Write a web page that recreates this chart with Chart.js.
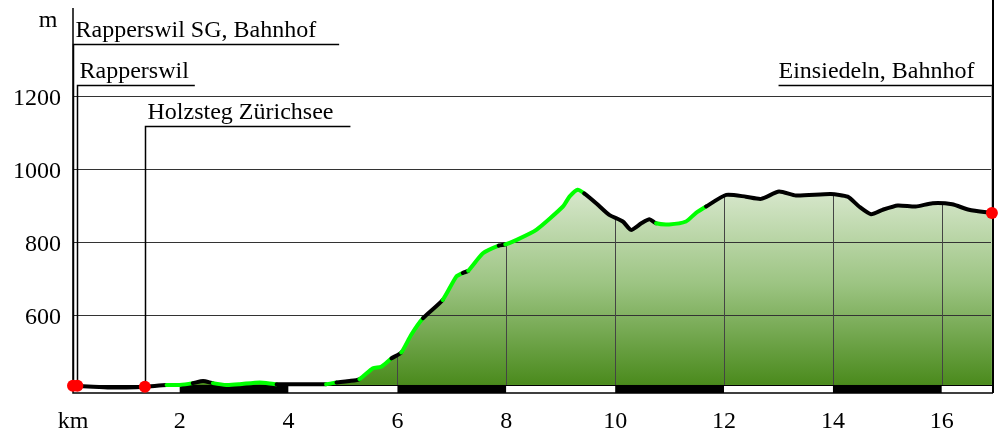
<!DOCTYPE html>
<html>
<head>
<meta charset="utf-8">
<script src="https://cdn.jsdelivr.net/npm/chart.js@4.4.1/dist/chart.umd.min.js"></script>
<style>
    html, body { margin: 0; padding: 0; background: #fff; }
</style>
</head>
<body>
<canvas id="chart" width="999" height="433"></canvas>
<script>
// route profile, km from start and altitude in m
const distKm = [0.04, 0.41, 0.72, 1.02, 1.36, 1.76, 2.00, 2.24, 2.43, 2.61, 2.86, 3.10, 3.47, 3.78, 4.08, 4.45,
    4.69, 4.88, 5.12, 5.30, 5.55, 5.70, 5.89, 6.07, 6.25, 6.47, 6.83, 7.08, 7.20, 7.30, 7.57, 7.86, 7.98, 8.18,
    8.55, 9.04, 9.16, 9.31, 9.43, 9.65, 9.89, 10.14, 10.29, 10.48, 10.63, 10.75, 10.99, 11.30, 11.48, 11.67,
    12.04, 12.40, 12.68, 13.01, 13.32, 13.96, 14.27, 14.48, 14.70, 14.91, 15.19, 15.52, 15.83, 16.19, 16.50, 16.92];
const elevation = [405, 402, 400, 400, 402, 407, 407, 412, 418, 412, 407, 409, 414, 409, 409, 409,
    409, 414, 418, 423, 453, 457, 480, 496, 544, 590, 640, 704, 714, 720, 768, 789, 792, 804,
    832, 896, 923, 942, 932, 905, 873, 855, 832, 850, 861, 850, 847, 855, 878, 896,
    928, 923, 917, 937, 926, 930, 923, 896, 875, 887, 899, 896, 905, 902, 887, 878];
// surface of the stretch starting at each point: g = green, b = black
const surface = ('bbbbb' + 'gg' + 'bb' + 'gggg' + 'bbb' + 'g' + 'bb' + 'ggg' + 'b' + 'gg' + 'b' + 'gg' + 'b' +
    'gg' + 'b' + 'gggggg' + 'bbbbbbb' + 'gggg' + 'bbbbbbbbbbbbbbbbb').split('');

const stationNames = ['Rapperswil SG, Bahnhof', 'Rapperswil', 'Holzsteg Zürichsee', 'Einsiedeln, Bahnhof'];
const stationKm = [0.04, 0.12, 1.36, 16.92];
const stationElev = [405, 405, 402, 878];

const xTicks = [0.04, 2, 4, 6, 8, 10, 12, 14, 16];
const xTickLabels = ['km', '2', '4', '6', '8', '10', '12', '14', '16'];
const yTicks = [600, 800, 1000, 1200];

// label layout (pixels)
const labelLevel = [44, 85, 126, 85];
const labelTail = [23, 6, 17, 18];
const labelRight = [false, false, false, true];

const FONT = "'Liberation Serif', 'Times New Roman', serif";
const BASE = 407;
const GREEN = '#00ff00';
const TENSION = 0.2;

const noPadding = s => {
    s.paddingTop = 0;
    s.paddingBottom = 0;
    s.paddingLeft = 0;
    s.paddingRight = 0;
};

const profilePlugin = {
    id: 'profile',
    beforeDatasetsDraw(chart) {
        const { ctx, chartArea: a, scales: { x, y } } = chart;
        const baseY = y.getPixelForValue(BASE);
        ctx.save();

        // horizontal grid lines
        ctx.strokeStyle = '#333';
        ctx.lineWidth = 1;
        yTicks.forEach(v => {
            const py = Math.round(y.getPixelForValue(v)) + 0.5;
            ctx.beginPath();
            ctx.moveTo(a.left, py);
            ctx.lineTo(a.right - 2, py);
            ctx.stroke();
        });

        // vertical km lines, only inside the filled area
        const area = chart.getDatasetMeta(2).dataset;
        ctx.save();
        ctx.beginPath();
        area.path(ctx);
        ctx.lineTo(x.getPixelForValue(distKm[distKm.length - 1]), baseY);
        ctx.lineTo(x.getPixelForValue(distKm[0]), baseY);
        ctx.closePath();
        ctx.clip();
        ctx.strokeStyle = '#444';
        xTicks.slice(1).forEach(v => {
            const px = Math.round(x.getPixelForValue(v)) + 0.5;
            ctx.beginPath();
            ctx.moveTo(px, baseY);
            ctx.lineTo(px, a.top);
            ctx.stroke();
        });
        ctx.restore();

        // km band
        const edges = xTicks.concat([x.max]);
        for (let i = 0; i < edges.length - 1; i++) {
            const x0 = x.getPixelForValue(edges[i]);
            const x1 = x.getPixelForValue(edges[i + 1]);
            ctx.fillStyle = i % 2 === 0 ? '#fff' : '#000';
            ctx.fillRect(x0, baseY, x1 - x0, a.bottom - baseY);
        }
        ctx.strokeStyle = '#000';
        ctx.lineWidth = 1;
        ctx.beginPath();
        ctx.moveTo(a.left, Math.round(baseY) + 0.5);
        ctx.lineTo(a.right, Math.round(baseY) + 0.5);
        ctx.stroke();

        // axes
        ctx.lineWidth = 1.5;
        ctx.beginPath();
        ctx.moveTo(a.left, a.top);
        ctx.lineTo(a.left, a.bottom);
        ctx.lineTo(a.right, a.bottom);
        ctx.stroke();
        ctx.lineWidth = 2;
        ctx.beginPath();
        ctx.moveTo(a.right, 0);
        ctx.lineTo(a.right, a.bottom);
        ctx.stroke();

        // station markers
        ctx.font = '24px ' + FONT;
        ctx.fillStyle = '#000';
        ctx.textBaseline = 'alphabetic';
        stationNames.forEach((name, i) => {
            const px = Math.round(x.getPixelForValue(stationKm[i])) + 0.5;
            const py = y.getPixelForValue(stationElev[i]);
            const ly = labelLevel[i] + 0.5;
            const w = ctx.measureText(name).width;
            ctx.lineWidth = 1.5;
            ctx.beginPath();
            ctx.moveTo(px, py);
            ctx.lineTo(px, ly);
            if (labelRight[i]) {
                ctx.lineTo(px - w - labelTail[i], ly);
                ctx.stroke();
                ctx.textAlign = 'right';
                ctx.fillText(name, px - labelTail[i], ly - 8);
            } else {
                ctx.lineTo(px + 2 + w + labelTail[i], ly);
                ctx.stroke();
                ctx.textAlign = 'left';
                ctx.fillText(name, px + 2, ly - 8);
            }
        });

        // unit of the altitude axis
        ctx.textAlign = 'center';
        ctx.fillText('m', 48, 27);
        ctx.restore();
    }
};

window.addEventListener('load', () => {
    const ctx = document.getElementById('chart');
    const points = distKm.map((k, i) => ({ x: k, y: elevation[i] }));

    new Chart(ctx, {
        type: 'line',
        data: {
            datasets: [
                {
                    // stations
                    data: stationKm.map((k, i) => ({ x: k, y: stationElev[i] })),
                    showLine: false,
                    pointRadius: 6,
                    pointBackgroundColor: '#ff0000',
                    pointBorderWidth: 0,
                    clip: false,
                    order: 0
                },
                {
                    // track line
                    data: points,
                    borderColor: '#000',
                    borderWidth: 4,
                    borderCapStyle: 'round',
                    borderJoinStyle: 'round',
                    pointRadius: 0,
                    tension: TENSION,
                    segment: {
                        borderColor: c => surface[c.p0DataIndex] === 'g' ? GREEN : '#000'
                    },
                    fill: false,
                    order: 1
                },
                {
                    // shaded area under the profile
                    data: points,
                    borderWidth: 0,
                    borderColor: 'rgba(0,0,0,0)',
                    pointRadius: 0,
                    tension: TENSION,
                    fill: { value: BASE },
                    backgroundColor: c => {
                        const chart = c.chart;
                        if (!chart.chartArea) return 'rgba(0,0,0,0)';
                        const y = chart.scales.y;
                        const g = chart.ctx.createLinearGradient(0, y.getPixelForValue(960), 0, y.getPixelForValue(BASE));
                        g.addColorStop(0, '#dcead2');
                        g.addColorStop(0.5, '#9cc482');
                        g.addColorStop(1, '#4a8a1c');
                        return g;
                    },
                    order: 2
                }
            ]
        },
        options: {
            responsive: false,
            animation: false,
            layout: { padding: { top: 8, right: 4, left: 0, bottom: 0 } },
            plugins: {
                legend: { display: false },
                tooltip: { enabled: false },
                filler: { drawTime: 'beforeDatasetsDraw' }
            },
            scales: {
                x: {
                    type: 'linear',
                    min: 0.04,
                    max: 16.94,
                    afterBuildTicks: s => { s.ticks = xTicks.map(v => ({ value: v })); },
                    afterFit: s => { s.height = 40; noPadding(s); },
                    grid: { display: false, drawTicks: false },
                    border: { display: false },
                    ticks: {
                        autoSkip: false,
                        maxRotation: 0,
                        padding: 14,
                        color: '#000',
                        font: { family: FONT, size: 24 },
                        callback: (v, i) => xTickLabels[i]
                    }
                },
                y: {
                    min: 385,
                    max: 1440,
                    afterBuildTicks: s => { s.ticks = yTicks.map(v => ({ value: v })); },
                    afterFit: s => { s.width = 73; noPadding(s); },
                    grid: { display: false, drawTicks: false },
                    border: { display: false },
                    ticks: {
                        padding: 12,
                        labelOffset: 3,
                        color: '#000',
                        font: { family: FONT, size: 24 },
                        callback: v => String(v)
                    }
                }
            }
        },
        plugins: [profilePlugin]
    });
});
</script>
</body>
</html>
